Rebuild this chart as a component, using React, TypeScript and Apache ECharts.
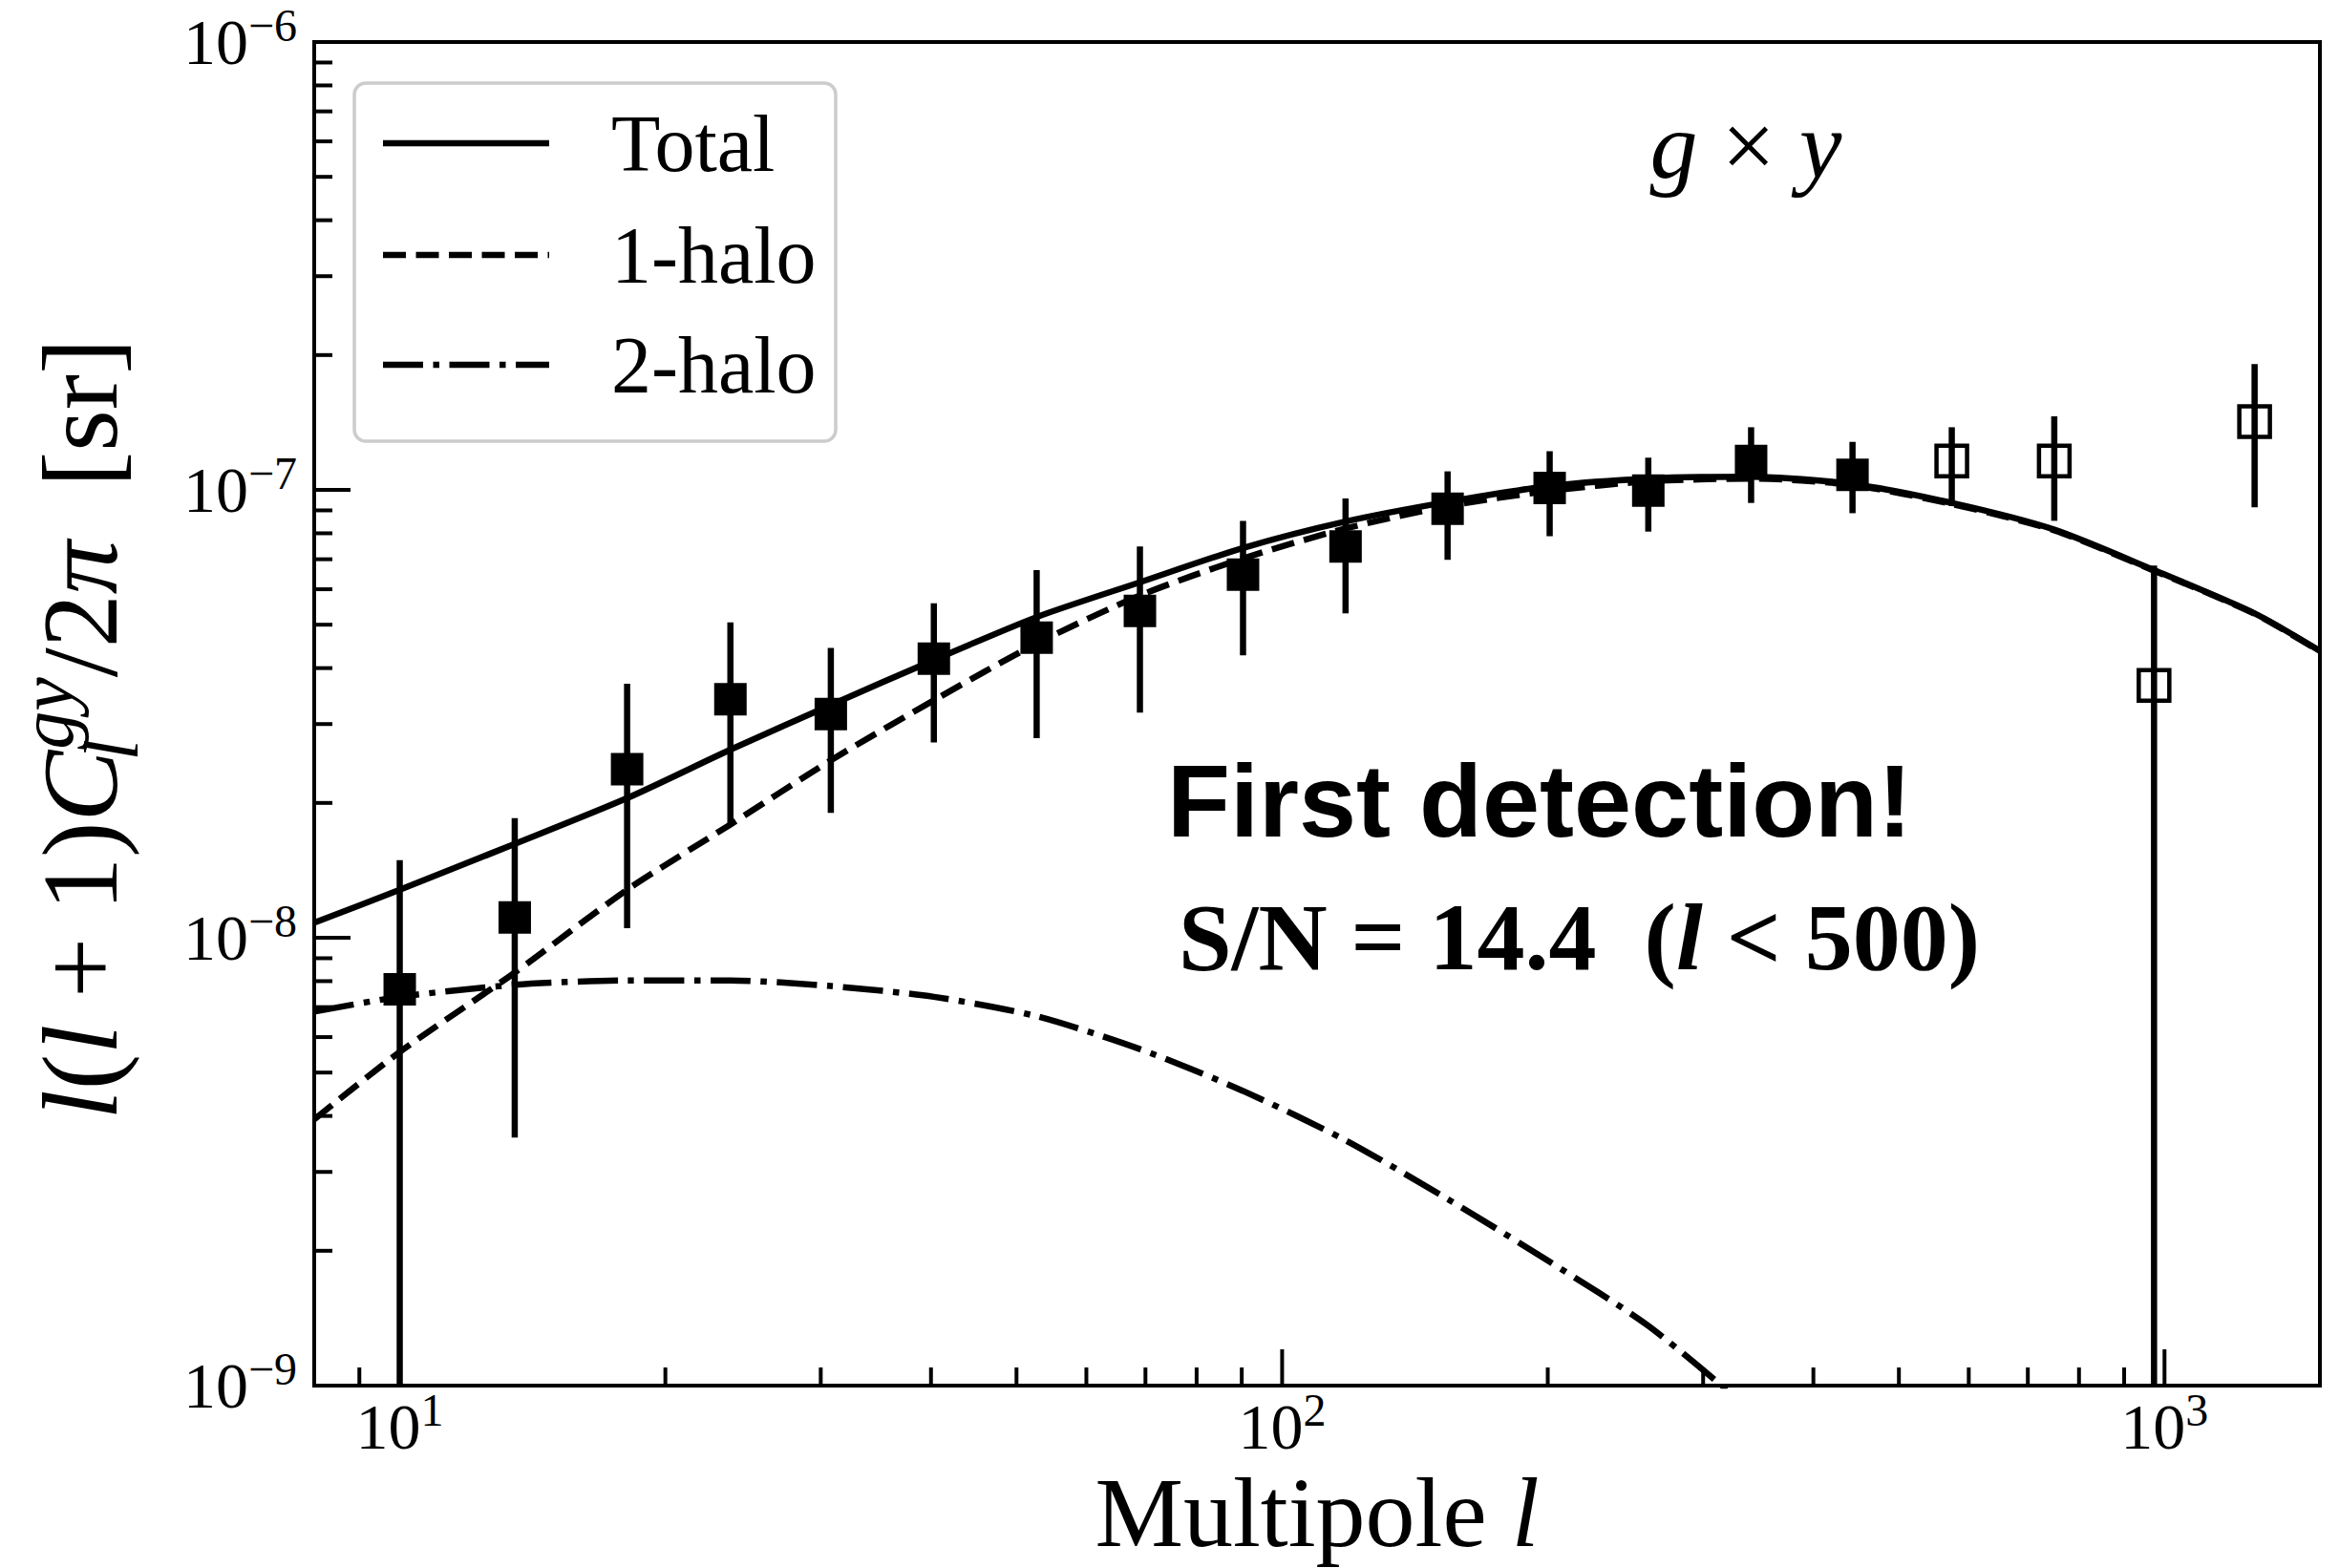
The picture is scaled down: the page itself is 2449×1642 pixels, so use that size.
import React, { useEffect, useRef } from 'react';
import * as echarts from 'echarts';

// ---------- data ----------
// model curves, sampled at multipoles curveL
const curveL = [8, 10, 13.5, 18.1, 23.7, 30.8, 40.3, 52.7, 69, 90.3, 118, 154, 201, 260, 340, 443, 574, 750, 973, 1265, 1500];
const totalV = [1.08e-8, 1.28e-8, 1.62e-8, 2.05e-8, 2.63e-8, 3.31e-8, 4.17e-8, 5.2e-8, 6.22e-8, 7.42e-8, 8.5e-8, 9.4e-8, 1.02e-7, 1.06e-7, 1.07e-7, 1.03e-7, 9.35e-8, 8.15e-8, 6.62e-8, 5.3e-8, 4.37e-8];
const oneHaloV = [3.93e-9, 5.56e-9, 8.36e-9, 1.28e-8, 1.79e-8, 2.49e-8, 3.39e-8, 4.54e-8, 5.81e-8, 7.03e-8, 8.2e-8, 9.2e-8, 9.95e-8, 1.045e-7, 1.06e-7, 1.025e-7, 9.3e-8, 8.12e-8, 6.6e-8, 5.29e-8, 4.36e-8];
const twoHaloL = [8, 10, 13.5, 18.1, 23.7, 30.8, 40.3, 52.7, 69, 90.3, 118, 154, 201, 260, 340];
const twoHaloV = [6.84e-9, 7.38e-9, 7.85e-9, 8.03e-9, 8.03e-9, 7.8e-9, 7.38e-9, 6.68e-9, 5.64e-9, 4.55e-9, 3.53e-9, 2.61e-9, 1.89e-9, 1.36e-9, 8.8e-10];

// measured points (filled: l < 500), lower bound 0 = error bar reaching below the axis
const dataL = [10, 13.5, 18.1, 23.7, 30.8, 40.3, 52.7, 69, 90.3, 118, 154, 201, 260, 340, 443];
const dataV = [7.67e-9, 1.11e-8, 2.38e-8, 3.41e-8, 3.16e-8, 4.2e-8, 4.68e-8, 5.37e-8, 6.47e-8, 7.48e-8, 9.08e-8, 1.01e-7, 9.96e-8, 1.16e-7, 1.08e-7];
const dataLo = [0, 3.58e-9, 1.05e-8, 1.79e-8, 1.9e-8, 2.73e-8, 2.79e-8, 3.18e-8, 4.27e-8, 5.3e-8, 6.98e-8, 7.88e-8, 8.07e-8, 9.35e-8, 8.87e-8];
const dataHi = [1.49e-8, 1.85e-8, 3.69e-8, 5.06e-8, 4.44e-8, 5.58e-8, 6.62e-8, 7.48e-8, 8.53e-8, 9.57e-8, 1.1e-7, 1.22e-7, 1.18e-7, 1.38e-7, 1.28e-7];

// open points (l > 500)
const openL = [574, 750, 973, 1265];
const openV = [1.16e-7, 1.16e-7, 3.66e-8, 1.42e-7];
const openLo = [9.2e-8, 8.53e-8, 0, 9.14e-8];
const openHi = [1.38e-7, 1.46e-7, 6.78e-8, 1.91e-7];

// axes
const X_MIN = 8;
const X_MAX = 1500;
const Y_MIN = 1e-9;
const Y_MAX = 1e-6;
const xMajorTicks = [10, 100, 1000];
const xMinorTicks = [9, 20, 30, 40, 50, 60, 70, 80, 90, 200, 300, 400, 500, 600, 700, 800, 900];
const yMajorTicks = [1e-9, 1e-8, 1e-7, 1e-6];
const yMinorTicks = [2e-9, 3e-9, 4e-9, 5e-9, 6e-9, 7e-9, 8e-9, 9e-9, 2e-8, 3e-8, 4e-8, 5e-8, 6e-8, 7e-8, 8e-8, 9e-8, 2e-7, 3e-7, 4e-7, 5e-7, 6e-7, 7e-7, 8e-7, 9e-7];

const legendNames = ['Total', '1-halo', '2-halo'];

// ---------- styling ----------
const SERIF = '"Liberation Serif", "DejaVu Serif", serif';
const SANS = '"Liberation Sans", Arial, sans-serif';
const LW = 6.5;
const DASHED = [24, 10.5];
const DASHDOT = [42, 10.5, 6.5, 10.5];

const pow10Label = (v: number) => {
  const e = Math.log10(v);
  const r = Math.round(e);
  if (Math.abs(e - r) > 1e-6) return '';
  return `{b|10}{s|${r < 0 ? '\u2212' + -r : r}}`;
};

const tickRich = {
  b: { fontFamily: SERIF, fontSize: 68, lineHeight: 86, color: '#000' },
  s: { fontFamily: SERIF, fontSize: 48, lineHeight: 86, padding: [0, 0, 36, 0], color: '#000' },
};

function buildOption() {
  const zip = (a: number[], b: number[]) => a.map((x, i) => [x, b[i]]);
  const errData = (l: number[], v: number[], lo: number[], hi: number[]) => l.map((x, i) => [x, v[i], lo[i], hi[i]]);

  const errRender = (params: any, api: any) => {
    const l = api.value(0);
    const lo = Math.max(api.value(2), Y_MIN);
    const hi = api.value(3);
    const a = api.coord([l, lo]);
    const b = api.coord([l, hi]);
    return { type: 'line', shape: { x1: a[0], y1: a[1], x2: b[0], y2: b[1] }, style: { stroke: '#000', lineWidth: LW } };
  };

  const xTickData = [...xMajorTicks.map((l) => [l, Y_MIN, 1]), ...xMinorTicks.map((l) => [l, Y_MIN, 0])];
  const yTickData = [...yMajorTicks.map((v) => [X_MIN, v, 1]), ...yMinorTicks.map((v) => [X_MIN, v, 0])];

  const legendY = [150, 267, 382];
  const legendDash: any[] = [null, DASHED, DASHDOT];

  const graphic: any[] = [
    {
      type: 'rect', z: 100,
      shape: { x: 371, y: 87, width: 504, height: 375, r: 12 },
      style: { fill: '#ffffff', stroke: '#cccccc', lineWidth: 3.5 },
    },
  ];
  legendNames.forEach((name, i) => {
    graphic.push({
      type: 'line', z: 101,
      shape: { x1: 401, y1: legendY[i], x2: 575, y2: legendY[i] },
      style: { stroke: '#000', lineWidth: LW, lineDash: legendDash[i] || undefined },
    });
    graphic.push({
      type: 'text', z: 101, x: 640, y: legendY[i],
      style: { text: name, fontFamily: SERIF, fontSize: 84, fill: '#000', align: 'left', verticalAlign: 'middle' },
    });
  });
  graphic.push({
    type: 'text', z: 101, x: 1828, y: 152,
    style: {
      text: '{i|g}{n| \u00d7 }{i|y}', align: 'center', verticalAlign: 'middle',
      rich: {
        i: { fontFamily: SERIF, fontStyle: 'italic', fontSize: 100, fill: '#000' },
        n: { fontFamily: SERIF, fontSize: 100, fill: '#000' },
      },
    },
  });
  graphic.push({
    type: 'text', z: 101, x: 1222, y: 838,
    style: { text: 'First detection!', fontFamily: SANS, fontWeight: 'bold', fontSize: 108, fill: '#000', align: 'left', verticalAlign: 'middle' },
  });
  graphic.push({
    type: 'text', z: 101, x: 1234, y: 981,
    style: {
      text: '{b|S/N = 14.4  (}{bi|l}{b| < 500)}', align: 'left', verticalAlign: 'middle',
      rich: {
        b: { fontFamily: SERIF, fontWeight: 'bold', fontSize: 100, fill: '#000' },
        bi: { fontFamily: SERIF, fontWeight: 'bold', fontStyle: 'italic', fontSize: 100, fill: '#000' },
      },
    },
  });

  return {
    animation: false,
    backgroundColor: '#ffffff',
    grid: {
      left: 329, right: 20, top: 44, bottom: 191, containLabel: false, outerBoundsMode: 'none',
      show: true, borderColor: '#000', borderWidth: 4, backgroundColor: 'transparent',
    },
    xAxis: {
      type: 'log', logBase: 10, min: X_MIN, max: X_MAX,
      axisLine: { show: false }, axisTick: { show: false }, splitLine: { show: false }, minorTick: { show: false },
      axisLabel: { formatter: pow10Label, rich: tickRich, margin: 0 },
      name: '{n|Multipole }{i|l}', nameLocation: 'middle', nameGap: 77, nameMoveOverlap: false,
      nameTextStyle: {
        rich: {
          n: { fontFamily: SERIF, fontSize: 104, lineHeight: 110, color: '#000' },
          i: { fontFamily: SERIF, fontStyle: 'italic', fontSize: 104, lineHeight: 110, color: '#000' },
        },
      },
    },
    yAxis: {
      type: 'log', logBase: 10, min: Y_MIN, max: Y_MAX,
      axisLine: { show: false }, axisTick: { show: false }, splitLine: { show: false }, minorTick: { show: false },
      axisLabel: { formatter: pow10Label, rich: tickRich, margin: 18 },
      name: '{i|l}{n|(}{i|l}{n| + 1)}{i|C}{sub|l}{sup|gy}{n|/2}{i|\u03c0}{n|  [sr]}',
      nameLocation: 'middle', nameRotate: 90, nameGap: 170, nameMoveOverlap: false,
      nameTextStyle: {
        padding: [0, 32, 0, 0],
        rich: {
          i: { fontFamily: SERIF, fontStyle: 'italic', fontSize: 112, lineHeight: 150, color: '#000' },
          n: { fontFamily: SERIF, fontSize: 112, lineHeight: 150, color: '#000' },
          sup: { fontFamily: SERIF, fontStyle: 'italic', fontSize: 80, lineHeight: 150, padding: [0, 0, 70, 0], color: '#000' },
          sub: { fontFamily: SERIF, fontStyle: 'italic', fontSize: 80, lineHeight: 150, padding: [66, 0, 0, 0], width: 1, color: '#000' },
        },
      },
    },
    graphic,
    series: [
      {
        name: 'Total', type: 'line', data: zip(curveL, totalV), showSymbol: false, symbol: 'none', smooth: 0.25, z: 2,
        lineStyle: { color: '#000', width: LW }, silent: true,
      },
      {
        name: '1-halo', type: 'line', data: zip(curveL, oneHaloV), showSymbol: false, symbol: 'none', smooth: 0.25, z: 2,
        lineStyle: { color: '#000', width: LW, type: DASHED }, silent: true,
      },
      {
        name: '2-halo', type: 'line', data: zip(twoHaloL, twoHaloV), showSymbol: false, symbol: 'none', smooth: 0.25, z: 2,
        lineStyle: { color: '#000', width: LW, type: DASHDOT }, silent: true,
      },
      {
        name: 'err', type: 'custom', coordinateSystem: 'cartesian2d', z: 3, silent: true,
        data: errData(dataL, dataV, dataLo, dataHi), encode: { x: 0, y: 1 }, renderItem: errRender,
      },
      {
        name: 'errOpen', type: 'custom', coordinateSystem: 'cartesian2d', z: 3, silent: true,
        data: errData(openL, openV, openLo, openHi), encode: { x: 0, y: 1 }, renderItem: errRender,
      },
      {
        name: 'data', type: 'scatter', data: zip(dataL, dataV), symbol: 'rect', symbolSize: 34, z: 4, silent: true,
        itemStyle: { color: '#000', opacity: 1 },
      },
      {
        name: 'dataOpen', type: 'scatter', data: zip(openL, openV), symbol: 'rect', symbolSize: 32, z: 4, silent: true,
        itemStyle: { color: 'rgba(0,0,0,0)', borderColor: '#000', borderWidth: 4.5, opacity: 1 },
      },
      {
        name: 'xticks', type: 'custom', coordinateSystem: 'cartesian2d', z: 6, silent: true,
        data: xTickData, encode: { x: 0, y: 1 },
        renderItem: (params: any, api: any) => {
          const p = api.coord([api.value(0), api.value(1)]);
          const len = api.value(2) ? 38 : 19;
          return { type: 'line', shape: { x1: p[0], y1: p[1], x2: p[0], y2: p[1] - len }, style: { stroke: '#000', lineWidth: 4 } };
        },
      },
      {
        name: 'yticks', type: 'custom', coordinateSystem: 'cartesian2d', z: 6, silent: true,
        data: yTickData, encode: { x: 0, y: 1 },
        renderItem: (params: any, api: any) => {
          const p = api.coord([api.value(0), api.value(1)]);
          const len = api.value(2) ? 38 : 19;
          return { type: 'line', shape: { x1: p[0], y1: p[1], x2: p[0] + len, y2: p[1] }, style: { stroke: '#000', lineWidth: 4 } };
        },
      },
    ],
  };
}

export default function App() {
  const ref = useRef<HTMLDivElement>(null);
  useEffect(() => {
    document.body.style.margin = '0';
    const chart = echarts.init(ref.current as HTMLDivElement, null, { renderer: 'svg' });
    chart.setOption(buildOption() as any);
    return () => chart.dispose();
  }, []);
  return (
    <div
      ref={ref}
      style={{ position: 'absolute', left: 0, top: 0, width: 2449, height: 1642, background: '#ffffff' }}
    />
  );
}
